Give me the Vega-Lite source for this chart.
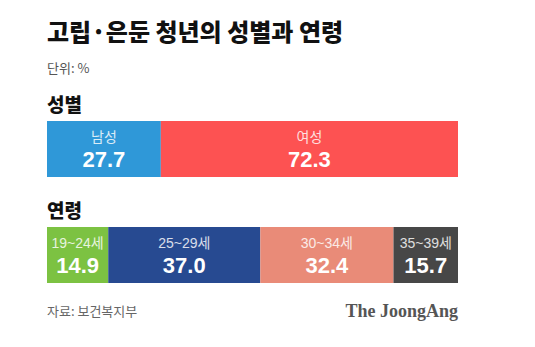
{
  "$schema": "https://vega.github.io/schema/vega-lite/v6.json",
  "width": 411,
  "height": 162,
  "padding": {"top": 22, "left": 47, "right": 10, "bottom": 10},
  "background": "white",
  "config": {"view": {"stroke": null}},
  "title": {
    "text": "고립·은둔 청년의 성별과 연령",
    "subtitle": "단위: %",
    "anchor": "start",
    "font": "Noto Sans CJK KR",
    "fontSize": 24,
    "fontWeight": 900,
    "color": "#111111",
    "limit": 0,
    "subtitleFont": "Noto Sans CJK KR",
    "subtitleFontSize": 13,
    "subtitleColor": "#555555",
    "subtitlePadding": 17,
    "offset": 21
  },
  "datasets": {
    "bars": [
      {"group": "성별", "label": "남성", "value": 27.7, "idx": 1},
      {"group": "성별", "label": "여성", "value": 72.3, "idx": 2},
      {"group": "연령", "label": "19~24세", "value": 14.9, "idx": 1},
      {"group": "연령", "label": "25~29세", "value": 37.0, "idx": 2},
      {"group": "연령", "label": "30~34세", "value": 32.4, "idx": 3},
      {"group": "연령", "label": "35~39세", "value": 15.7, "idx": 4}
    ],
    "headers": [
      {"group": "성별", "text": "성별"},
      {"group": "연령", "text": "연령"}
    ],
    "source": [{"group": "연령", "text": "자료: 보건복지부"}],
    "logo": [{"group": "연령", "text": "The JoongAng"}]
  },
  "encoding": {
    "y": {
      "field": "group",
      "type": "nominal",
      "axis": null,
      "scale": {"domain": ["성별", "연령"], "paddingInner": 0.4717, "paddingOuter": 0}
    }
  },
  "layer": [
    {
      "data": {"name": "bars"},
      "mark": {"type": "bar"},
      "encoding": {
        "x": {"field": "value", "type": "quantitative", "stack": "zero", "axis": null, "scale": {"domain": [0, 100], "nice": false}},
        "order": {"field": "idx"},
        "color": {
          "field": "label",
          "type": "nominal",
          "legend": null,
          "scale": {
            "domain": ["남성", "여성", "19~24세", "25~29세", "30~34세", "35~39세"],
            "range": ["#2f98d8", "#fd5252", "#7cc242", "#274a91", "#e98b78", "#474747"]
          }
        }
      }
    },
    {
      "data": {"name": "bars"},
      "mark": {"type": "text", "font": "Liberation Sans, Noto Sans CJK KR", "fontSize": 14, "color": "white", "opacity": 0.82, "dy": -11, "letterSpacing": -0.5},
      "encoding": {
        "x": {"field": "value", "type": "quantitative", "stack": "zero", "bandPosition": 0.5},
        "order": {"field": "idx"},
        "text": {"field": "label"}
      }
    },
    {
      "data": {"name": "bars"},
      "mark": {"type": "text", "font": "Liberation Sans", "fontSize": 22, "fontWeight": "bold", "color": "white", "dy": 11},
      "encoding": {
        "x": {"field": "value", "type": "quantitative", "stack": "zero", "bandPosition": 0.5},
        "order": {"field": "idx"},
        "text": {"field": "value", "format": ".1f"}
      }
    },
    {
      "data": {"name": "headers"},
      "mark": {"type": "text", "font": "Noto Sans CJK KR", "fontSize": 19, "fontWeight": 900, "color": "#111111", "align": "left", "baseline": "bottom", "dy": -5},
      "encoding": {
        "x": {"datum": 0},
        "y": {"field": "group", "type": "nominal", "bandPosition": 0},
        "text": {"field": "text"}
      }
    },
    {
      "data": {"name": "source"},
      "mark": {"type": "text", "font": "Noto Sans CJK KR", "fontSize": 13, "color": "#666666", "align": "left", "baseline": "middle", "dy": 29},
      "encoding": {
        "x": {"datum": 0},
        "y": {"field": "group", "type": "nominal", "bandPosition": 1},
        "text": {"field": "text"}
      }
    },
    {
      "data": {"name": "logo"},
      "mark": {"type": "text", "font": "Liberation Serif", "fontSize": 18, "fontWeight": "bold", "color": "#555555", "align": "right", "baseline": "middle", "dy": 29},
      "encoding": {
        "x": {"datum": 100},
        "y": {"field": "group", "type": "nominal", "bandPosition": 1},
        "text": {"field": "text"}
      }
    }
  ]
}
